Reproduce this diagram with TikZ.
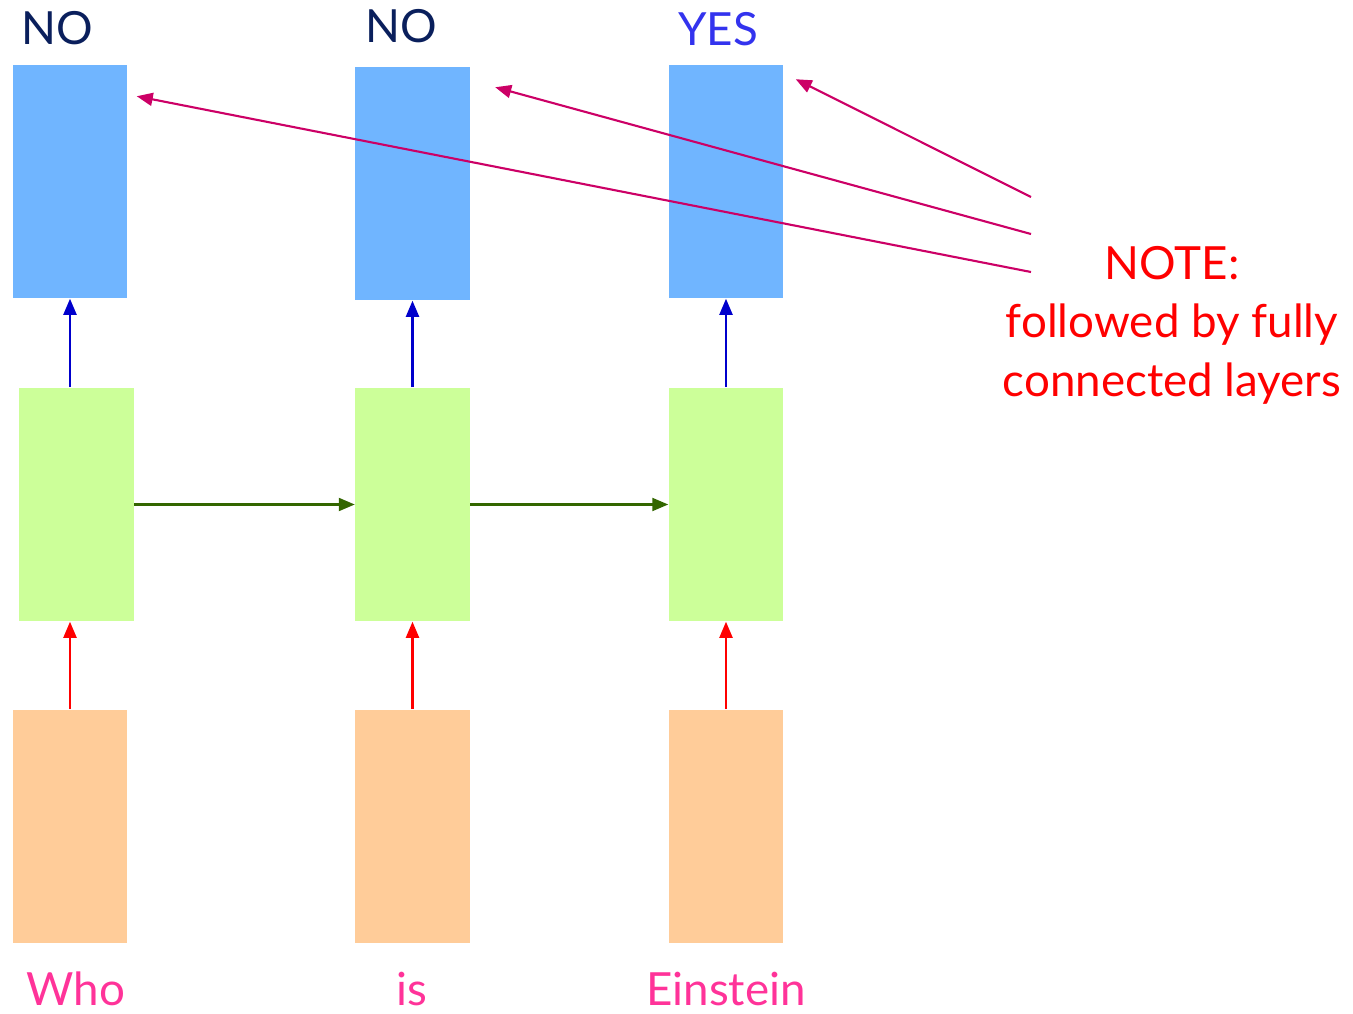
\documentclass[tikz,border=0pt]{standalone}
\usepackage{fontspec}
\setmainfont{Lato}
\usetikzlibrary{arrows.meta,positioning,calc}
\definecolor{outblue}{HTML}{70B5FF}
\definecolor{hidgreen}{HTML}{CCFF99}
\definecolor{inorange}{HTML}{FFCC99}
\definecolor{upblue}{HTML}{0000CC}
\definecolor{upred}{HTML}{FF0000}
\definecolor{recgreen}{HTML}{336600}
\definecolor{notemag}{HTML}{CC0066}
\definecolor{navy}{HTML}{0A1F5C}
\definecolor{yesblue}{HTML}{3333EE}
\definecolor{wordpink}{HTML}{FF3399}

\begin{document}
\begin{tikzpicture}[x=.01cm,y=-.01cm,
  cell/.style={rectangle,inner sep=0pt,minimum width=1.14cm,minimum height=2.33cm},
  lab/.style={font=\fontsize{13}{16.6}\selectfont,inner sep=0pt},
  arr/.style={line width=.6pt,-{Triangle[length=.16cm,width=.13cm]}}]
\useasboundingbox(0,0)rectangle(1353,1014);
\node[cell,fill=outblue](b1)at(70,181.5){};
\node[cell,fill=outblue](b2)at(412.5,183.5){};
\node[cell,fill=outblue](b3)at(726,181.5){};
\node[cell,fill=hidgreen](g1)at(76.5,504.5){};
\node[cell,fill=hidgreen](g2)at(412.5,504.5){};
\node[cell,fill=hidgreen](g3)at(726,504.5){};
\node[cell,fill=inorange](o1)at(70,826.5){};
\node[cell,fill=inorange](o2)at(412.5,826.5){};
\node[cell,fill=inorange](o3)at(726,826.5){};
\foreach \c in {1,2,3}{
\draw[arr,upblue](b\c.south|-g\c.north)--(b\c.south);
\draw[arr,upred](o\c.north)--(o\c.north|-g\c.south);}
\draw[arr,recgreen](g1.east)--(g2.west);
\draw[arr,recgreen](g2.east)--(g3.west);
\node[lab,text=navy,anchor=base](y1)at(57,44){NO};
\node[lab,text=navy,anchor=base](y2)at(401,42){NO};
\node[lab,text=yesblue,anchor=base](y3)at(718,45){YES};
\node[lab,text=wordpink,anchor=base](w1)at(76,1005){Who};
\node[lab,text=wordpink,anchor=base](w2)at(412,1005){is};
\node[lab,text=wordpink,anchor=base](w3)at(726,1005){Einstein};
\node[lab,text=upred,align=center](note)at(1172,325){NOTE:\\followed by fully\\connected layers};
\coordinate(n3)at(1031,197);
\coordinate(n2)at(1031,234);
\coordinate(n1)at(1031,272);
\draw[arr,notemag](n3)--([shift={(12,15)}]b3.north east);
\draw[arr,notemag](n2)--([shift={(25,21)}]b2.north east);
\draw[arr,notemag](n1)--([shift={(9,32)}]b1.north east);
\end{tikzpicture}
\end{document}
